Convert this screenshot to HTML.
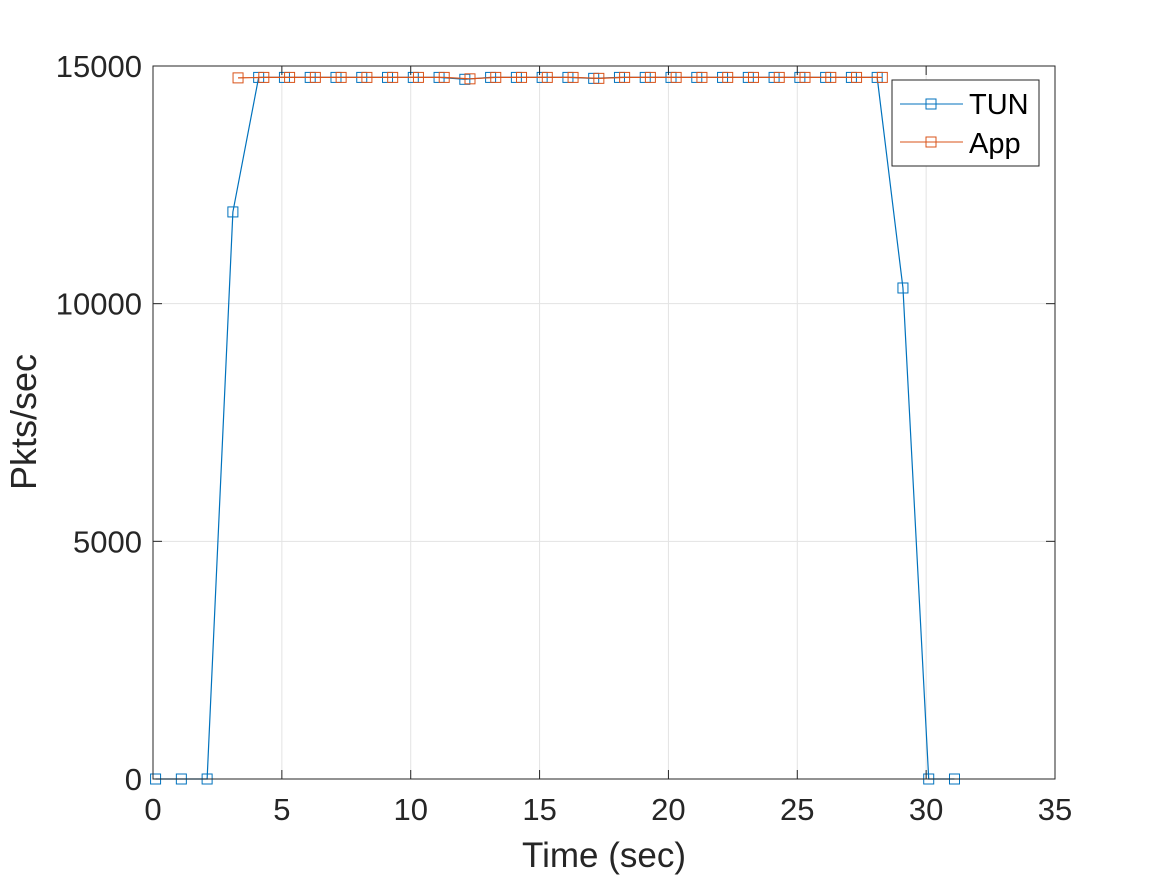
<!DOCTYPE html>
<html><head><meta charset="utf-8"><style>
body{margin:0;background:#fff;font-family:"Liberation Sans",sans-serif;}
</style></head><body>
<svg width="1167" height="875" xmlns="http://www.w3.org/2000/svg">
<g id="grid"></g>
<g id="series"></g>
<rect x="153" y="66" width="902" height="713" fill="none" stroke="#262626" stroke-width="1"/>
<g id="ticks"></g>
<text x="604" y="867" font-size="35" text-anchor="middle" fill="#262626">Time (sec)</text>
<text transform="translate(36,422) rotate(-90)" font-size="36" text-anchor="middle" fill="#262626">Pkts/sec</text>
<g>
<rect x="892" y="80" width="147" height="86" fill="#fff" stroke="#262626"/>
<g>
<line x1="900" y1="104" x2="963" y2="104" stroke="#0072BD"/><rect x="926" y="99" width="10" height="10" fill="none" stroke="#0072BD"/>
<text x="969" y="114" font-size="29" fill="#000">TUN</text></g>
<g>
<line x1="900" y1="142" x2="963" y2="142" stroke="#D95319"/><rect x="926" y="137" width="10" height="10" fill="none" stroke="#D95319"/>
<text x="969" y="153" font-size="29" fill="#000">App</text></g>
</g>
</svg>
<script>
const xTicks=[0,5,10,15,20,25,30,35];
const yTicks=[0,5000,10000,15000];
const tunT=[0.1,1.1,2.1,3.1,4.1,5.1,6.1,7.1,8.1,9.1,10.1,11.1,12.1,13.1,14.1,15.1,16.1,17.1,18.1,19.1,20.1,21.1,22.1,23.1,24.1,25.1,26.1,27.1,28.1,29.1,30.1,31.1];
const tunV=[0,0,0,11930,14760,14760,14760,14760,14760,14760,14760,14760,14720,14760,14760,14760,14760,14740,14760,14760,14760,14760,14760,14760,14760,14760,14760,14760,14760,10330,0,0];
const appT=[3.3,4.3,5.3,6.3,7.3,8.3,9.3,10.3,11.3,12.3,13.3,14.3,15.3,16.3,17.3,18.3,19.3,20.3,21.3,22.3,23.3,24.3,25.3,26.3,27.3,28.3];
const appV=[14750,14760,14760,14760,14760,14760,14760,14760,14760,14730,14760,14760,14760,14760,14740,14760,14760,14760,14760,14760,14760,14760,14760,14760,14760,14760];
const NS='http://www.w3.org/2000/svg';
const X=v=>153+v*(902/35), Y=v=>779-v*(713/15000);
function mk(t,a,p){const e=document.createElementNS(NS,t);for(const k in a)e.setAttribute(k,a[k]);p.appendChild(e);return e;}
const g=document.getElementById('grid'),tk=document.getElementById('ticks'),s=document.getElementById('series');
xTicks.forEach(v=>{
 if(v>0&&v<35){const l=mk('line',{x1:X(v),x2:X(v),y1:66,y2:779,stroke:'#e3e3e3'},g);
 
 }
 mk('line',{x1:X(v),x2:X(v),y1:779,y2:770,stroke:'#262626'},tk);
 mk('line',{x1:X(v),x2:X(v),y1:66,y2:75,stroke:'#262626'},tk);
 const t=mk('text',{x:X(v),y:820,'font-size':31,'text-anchor':'middle',fill:'#262626'},tk);t.textContent=v;
 
 
});
yTicks.forEach(v=>{
 if(v>0&&v<15000){const l=mk('line',{x1:153,x2:1055,y1:Y(v),y2:Y(v),stroke:'#e3e3e3'},g);
 
 }
 mk('line',{x1:153,x2:162,y1:Y(v),y2:Y(v),stroke:'#262626'},tk);
 mk('line',{x1:1055,x2:1046,y1:Y(v),y2:Y(v),stroke:'#262626'},tk);
 const t=mk('text',{x:142,y:Y(v)+11,'font-size':31,'text-anchor':'end',fill:'#262626'},tk);t.textContent=v;
 
 
});
function series(T,V,c,name){
 const p=mk('polyline',{points:T.map((t,i)=>X(t)+','+Y(V[i])).join(' '),fill:'none',stroke:c,'stroke-width':1.2},s);
 
 
 T.forEach((t,i)=>{const r=mk('rect',{x:X(t)-5,y:Y(V[i])-5,width:10,height:10,fill:'none',stroke:c},s);
 
 });
}
series(tunT,tunV,'#0072BD','tun');
series(appT,appV,'#D95319','app');
</script>
</body></html>
